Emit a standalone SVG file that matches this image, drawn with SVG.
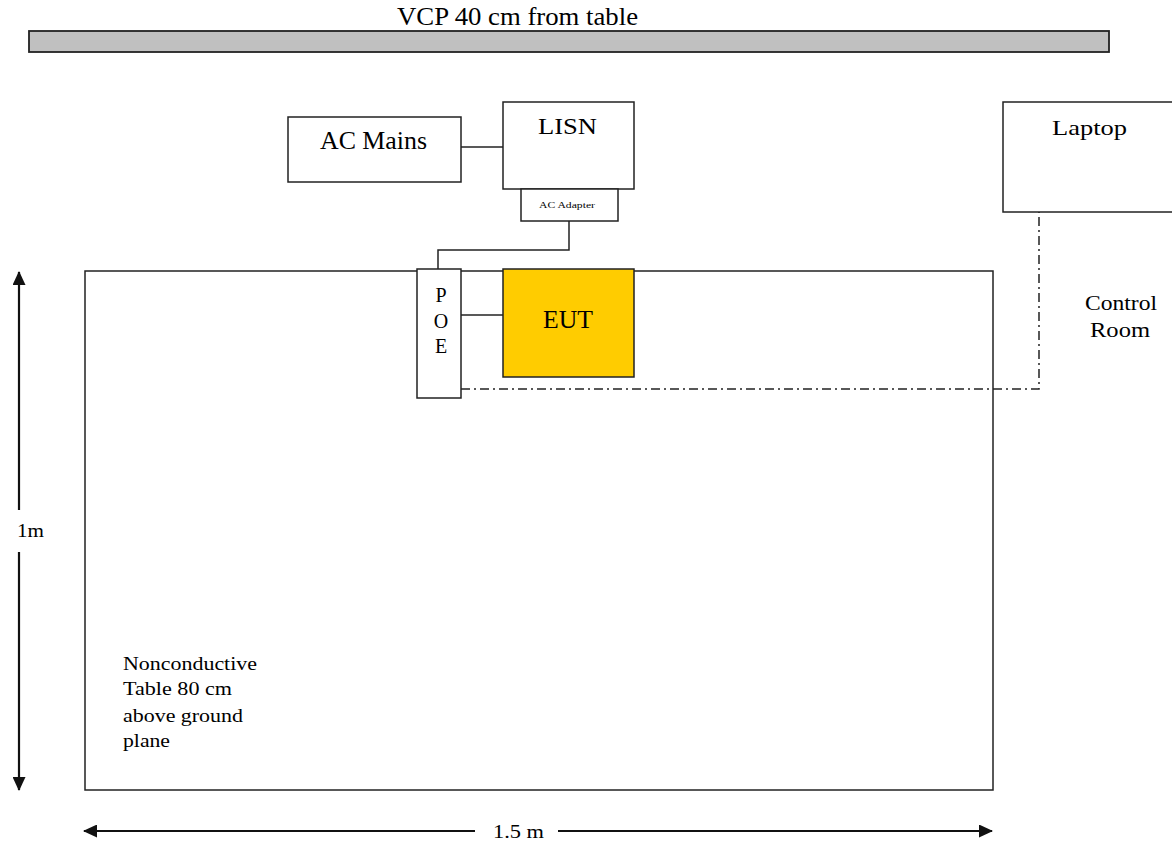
<svg xmlns="http://www.w3.org/2000/svg" width="1172" height="843" viewBox="0 0 1172 843">
<defs>
<style>
.box{fill:#fff;stroke:#222;stroke-width:1.5}
.ln{fill:none;stroke:#222;stroke-width:1.5}
.dim{fill:none;stroke:#111;stroke-width:2.2}
.t{font-family:"Liberation Serif","Times New Roman",serif;fill:#000}
</style>
<marker id="ah" viewBox="0 0 14 13" refX="13" refY="6.5" markerWidth="14" markerHeight="13" orient="auto-start-reverse" markerUnits="userSpaceOnUse">
<path d="M0,0 L14,6.5 L0,13 z" fill="#111"/>
</marker>
</defs>
<rect width="1172" height="843" fill="#fff"/>
<g id="vcp">
<rect x="29" y="31" width="1080" height="21" fill="#c0c0c0" stroke="#222" stroke-width="1.8"/>
<text class="t" x="397" y="25" font-size="25" textLength="241" lengthAdjust="spacingAndGlyphs">VCP 40 cm from table</text>
</g>
<g id="table">
<rect class="box" x="85" y="271" width="908" height="519"/>
<text class="t" font-size="19" x="123" y="670" textLength="134" lengthAdjust="spacingAndGlyphs">Nonconductive</text>
<text class="t" font-size="19" x="123" y="695" textLength="109" lengthAdjust="spacingAndGlyphs">Table 80 cm</text>
<text class="t" font-size="19" x="123" y="722" textLength="120" lengthAdjust="spacingAndGlyphs">above ground</text>
<text class="t" font-size="19" x="123" y="747" textLength="47" lengthAdjust="spacingAndGlyphs">plane</text>
</g>
<g id="connectors">
<line class="ln" x1="461" y1="147" x2="503" y2="147"/>
<polyline class="ln" points="569,221 569,250 438,250 438,269"/>
<line class="ln" x1="461" y1="315" x2="503" y2="315"/>
<polyline class="ln" points="461,389 1039,389 1039,212" stroke-dasharray="9,4,2,4"/>
<line class="dim" x1="19" y1="272" x2="19" y2="510" marker-start="url(#ah)"/>
<line class="dim" x1="19" y1="552" x2="19" y2="790" marker-end="url(#ah)"/>
<line class="dim" x1="84" y1="831" x2="475" y2="831" marker-start="url(#ah)"/>
<line class="dim" x1="558" y1="831" x2="992" y2="831" marker-end="url(#ah)"/>
</g>
<g id="acmains">
<rect class="box" x="288" y="117" width="173" height="65"/>
<text class="t" x="320" y="149" font-size="25" textLength="107" lengthAdjust="spacingAndGlyphs">AC Mains</text>
</g>
<g id="lisn">
<rect class="box" x="503" y="102" width="131" height="87"/>
<text class="t" x="538" y="134" font-size="24" textLength="59" lengthAdjust="spacingAndGlyphs">LISN</text>
</g>
<g id="adapter">
<rect class="box" x="521" y="189" width="97" height="32"/>
<text class="t" x="539" y="208" font-size="9" textLength="56" lengthAdjust="spacingAndGlyphs">AC Adapter</text>
</g>
<g id="poe">
<rect class="box" x="417" y="269" width="44" height="129"/>
<text class="t" x="441" y="302" font-size="20" text-anchor="middle">P</text>
<text class="t" x="441" y="328" font-size="20" text-anchor="middle">O</text>
<text class="t" x="441" y="353" font-size="20" text-anchor="middle">E</text>
</g>
<g id="eut">
<rect x="503" y="269" width="131" height="108" fill="#ffcc00" stroke="#222" stroke-width="1.5"/>
<text class="t" x="543" y="328" font-size="25" textLength="50" lengthAdjust="spacingAndGlyphs">EUT</text>
</g>
<g id="laptop">
<rect class="box" x="1003" y="102" width="180" height="110"/>
<text class="t" x="1052" y="135" font-size="22" textLength="75" lengthAdjust="spacingAndGlyphs">Laptop</text>
</g>
<g id="controlroom">
<text class="t" x="1085" y="310" font-size="22" textLength="72" lengthAdjust="spacingAndGlyphs">Control</text>
<text class="t" x="1090" y="337" font-size="22" textLength="60" lengthAdjust="spacingAndGlyphs">Room</text>
</g>
<g id="dims">
<text class="t" x="17" y="537" font-size="18" textLength="27" lengthAdjust="spacingAndGlyphs">1m</text>
<text class="t" x="493" y="838" font-size="19" textLength="51" lengthAdjust="spacingAndGlyphs">1.5 m</text>
</g>
</svg>
